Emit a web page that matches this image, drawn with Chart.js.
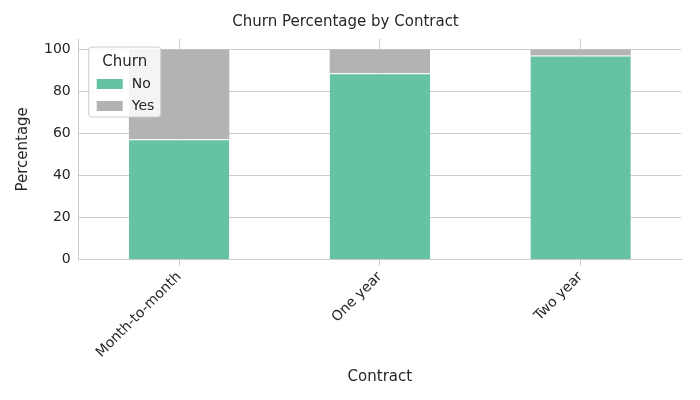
<!DOCTYPE html>
<html><head><meta charset="utf-8">
<script src="https://cdn.jsdelivr.net/npm/chart.js"></script>
<style>html,body{margin:0;background:#fff}#wrap{width:700px;height:400px}</style>
</head><body><div id="wrap"><canvas id="c"></canvas></div>
<script>
const contracts = ["Month-to-month", "One year", "Two year"];
const noPct = [57.3, 88.7, 97.2];
const yesPct = [42.7, 11.3, 2.8];
const yTicks = [0, 20, 40, 60, 80, 100];

const font = "DejaVu Sans";
Chart.defaults.font.family = font;
Chart.defaults.color = "#262626";

const legendBox = {
    id: "legendBox",
    afterDraw(chart) {
        const ctx = chart.ctx, a = chart.chartArea;
        const x = a.left + 10, y = a.top + 8;
        ctx.save();
        ctx.fillStyle = "rgba(255,255,255,0.85)";
        ctx.strokeStyle = "#cccccc";
        ctx.lineWidth = 1;
        ctx.beginPath();
        ctx.roundRect(x, y, 72, 70, 3);
        ctx.fill(); ctx.stroke();
        ctx.fillStyle = "#262626";
        ctx.font = "15px " + font;
        ctx.textAlign = "center";
        ctx.textBaseline = "middle";
        ctx.fillText("Churn", x + 36, y + 15);
        ctx.textAlign = "left";
        ctx.font = "14px " + font;
        chart.data.datasets.forEach((ds, i) => {
            const ry = y + 37 + i * 22;
            ctx.fillStyle = ds.backgroundColor;
            ctx.fillRect(x + 8, ry - 5, 26, 10);
            ctx.fillStyle = "#262626";
            ctx.fillText(ds.label, x + 43, ry);
        });
        ctx.restore();
    }
};

new Chart(document.getElementById("c"), {
    type: "bar",
    data: {
        labels: contracts,
        datasets: [
            { label: "No", data: noPct, backgroundColor: "#66c2a5", borderColor: "#ffffff", borderWidth: { top: 1 }, borderSkipped: false, categoryPercentage: 1, barPercentage: 0.5 },
            { label: "Yes", data: yesPct, backgroundColor: "#b3b3b3", borderColor: "#ffffff", borderWidth: 0, categoryPercentage: 1, barPercentage: 0.5 }
        ]
    },
    options: {
        responsive: true, maintainAspectRatio: false, animation: false,
        layout: { padding: { left: 10, right: 19, top: 5, bottom: 10 } },
        plugins: {
            legend: { display: false },
            tooltip: { enabled: false },
            title: { display: true, text: "Churn Percentage by Contract", font: { size: 15, weight: "normal" }, color: "#262626", padding: { top: 8, bottom: 8 } }
        },
        scales: {
            x: {
                stacked: true,
                grid: { color: "#cccccc", drawTicks: true, tickLength: 6, offset: false },
                border: { color: "#cccccc" },
                ticks: { font: { size: 14 }, minRotation: 45, maxRotation: 45 },
                title: { display: true, text: "Contract", font: { size: 15 }, padding: { top: 4 } }
            },
            y: {
                stacked: true, min: 0, max: 105,
                afterBuildTicks: s => { s.ticks = yTicks.map(v => ({ value: v })); },
                grid: { color: "#cccccc", drawTicks: false },
                border: { color: "#cccccc" },
                ticks: { font: { size: 14 }, padding: 8 },
                title: { display: true, text: "Percentage", font: { size: 15 } }
            }
        }
    },
    plugins: [legendBox]
});
</script></body></html>
